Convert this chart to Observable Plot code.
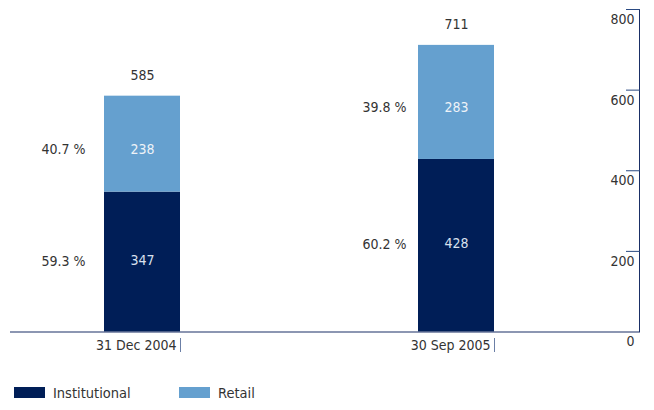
<!DOCTYPE html>
<html>
<head>
<meta charset="utf-8">
<script src="https://cdn.jsdelivr.net/npm/d3@7"></script>
<script src="https://cdn.jsdelivr.net/npm/@observablehq/plot@0.6"></script>
<style>
  body { margin: 0; background: #fff; }
  #chart svg { display: block; }
  .legend { position: relative; height: 35px; font-family: "DejaVu Sans Condensed", "DejaVu Sans", sans-serif; font-stretch: condensed; font-size: 14.5px; color: #333; }
  .item { position: absolute; top: 0; height: 35px; display: flex; align-items: center; }
  .sw { width: 31px; height: 11px; margin-right: 8px; }
</style>
</head>
<body>
<div id="chart"></div>
<script>
const dates = ["31 Dec 2004", "30 Sep 2005"];
const series = ["Institutional", "Retail"];
const institutional = [347, 428];
const retail = [238, 283];
const totals = [585, 711];
const institutionalShare = ["59.3 %", "60.2 %"];
const retailShare = ["40.7 %", "39.8 %"];
const yTicks = [0, 200, 400, 600, 800];
const colors = ["#001e57", "#65a0cf"];

const rows = [];
dates.forEach((d, i) => {
  rows.push({date: d, series: series[0], value: institutional[i], share: institutionalShare[i], idx: i});
  rows.push({date: d, series: series[1], value: retail[i], share: retailShare[i], idx: i});
});
const totalRows = dates.map((d, i) => ({date: d, total: totals[i]}));

const shareMark = (idx, s, dx, dy) =>
  Plot.text(rows, Plot.stackY({x: "date", y: "value", z: "series",
    text: d => d.idx === idx && d.series === s ? d.share : null,
    textAnchor: "end", dx, dy, fill: "#333"}));

const chart = Plot.plot({
  width: 654,
  height: 375,
  marginTop: 9,
  marginBottom: 43.5,
  marginLeft: 10,
  marginRight: 15,
  style: 'font-family: "DejaVu Sans Condensed", "DejaVu Sans", sans-serif; font-stretch: condensed; font-size: 14px; color: #333; background: #fff;',
  x: {domain: dates, range: [104, 494], paddingInner: 0.758, paddingOuter: 0, axis: null, label: null},
  y: {domain: [0, 800], axis: null},
  color: {domain: series, range: colors},
  marks: [
    Plot.barY(rows, {x: "date", y: "value", fill: "series"}),
    Plot.text(rows, Plot.stackY({x: "date", y: "value", z: "series", text: d => d.series === "Retail" ? d.value : null, fill: "#eef3f8", dy: 5})),
    Plot.text(rows, Plot.stackY({x: "date", y: "value", z: "series", text: d => d.series === "Institutional" ? d.value : null, fill: "#d9e1ee", dy: -2})),
    shareMark(0, "Retail", -57, 5),
    shareMark(0, "Institutional", -57, -1),
    shareMark(1, "Retail", -50, 5),
    shareMark(1, "Institutional", -50, -1),
    Plot.text(totalRows, {x: "date", y: "total", text: "total", dy: -21, fill: "#333"}),
    Plot.ruleY([0], {stroke: "#1a2f66", strokeWidth: 1.2}),
    Plot.frame({anchor: "right", stroke: "#1a2f66"}),
    Plot.axisY(yTicks.slice(1), {anchor: "right", tickSize: 14, dx: -14, text: null, stroke: "#2a4a82"}),
    Plot.axisY(yTicks, {anchor: "right", tickSize: 0, tickPadding: 0, dx: -5, dy: 10, textAnchor: "end", fill: "#333", tickFormat: d => String(d), label: null}),
    Plot.axisX({tickSize: 14, dy: 6.5, dx: 38, text: null, stroke: "#6b7fa6", label: null}),
    Plot.axisX({tickSize: 0, tickPadding: 0, dx: 34, dy: 13.5, lineAnchor: "middle", textAnchor: "end", fill: "#333", label: null})
  ]
});
document.getElementById("chart").appendChild(chart);

const legend = document.createElement("div");
legend.className = "legend";
const lefts = [14, 179];
series.forEach((s, i) => {
  const it = document.createElement("div");
  it.className = "item";
  it.style.left = lefts[i] + "px";
  const sw = document.createElement("span");
  sw.className = "sw";
  sw.style.background = colors[i];
  const tx = document.createElement("span");
  tx.textContent = s;
  it.appendChild(sw);
  it.appendChild(tx);
  legend.appendChild(it);
});
document.getElementById("chart").appendChild(legend);
</script>
</body>
</html>
